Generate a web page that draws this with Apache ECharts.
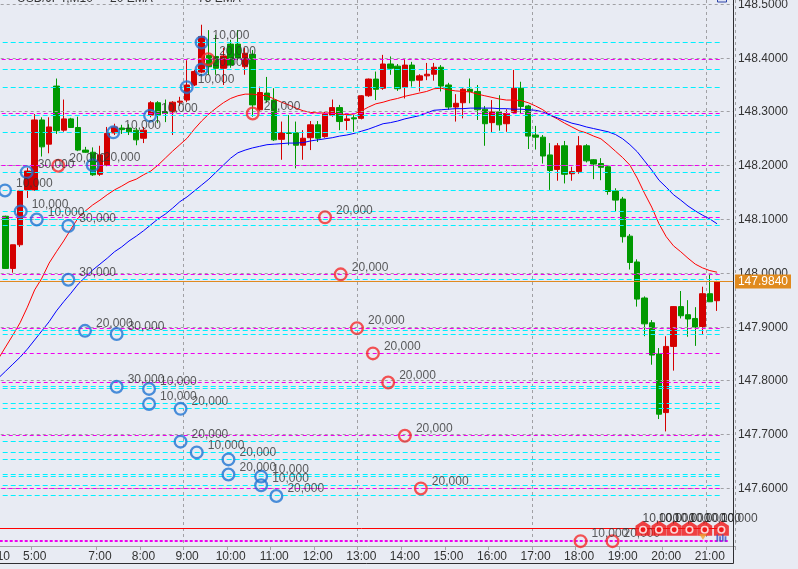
<!DOCTYPE html>
<html><head><meta charset="utf-8">
<script src="https://cdn.jsdelivr.net/npm/echarts@6/dist/echarts.min.js"></script>
<style>html,body{margin:0;padding:0;background:#e8ebf3;}#c{width:798px;height:569px;}</style>
</head><body><div id="c"></div>
<script>
// ---- data ----
const categories = ['4:10','4:20','4:30','4:40','4:50','5:00','5:10','5:20','5:30','5:40','5:50','6:30','6:40','6:50',
'7:00','7:10','7:20','7:30','7:40','7:50','8:00','8:10','8:20','8:30','8:40','8:50',
'9:00','9:10','9:20','9:30','9:40','9:50','10:00','10:10','10:20','10:30','10:40','10:50',
'11:00','11:10','11:20','11:30','11:40','11:50','12:00','12:10','12:20','12:30','12:40','12:50',
'13:00','13:10','13:20','13:30','13:40','13:50','14:00','14:10','14:20','14:30','14:40','14:50',
'15:00','15:10','15:20','15:30','15:40','15:50','16:00','16:10','16:20','16:30','16:40','16:50',
'17:00','17:10','17:20','17:30','17:40','17:50','18:00','18:10','18:20','18:30','18:40','18:50',
'19:00','19:10','19:20','19:30','19:40','19:50','20:00','20:10','20:20','20:30','20:40','20:50',
'21:00','21:10','21:20','21:30'];

const opens = [null,148.106,148.009,148.053,148.155,148.155,148.285,148.240,148.348,148.266,
148.287,148.271,148.229,148.225,148.184,148.201,148.261,148.270,148.270,148.266,
148.251,148.294,148.317,148.300,148.300,148.318,148.322,148.350,148.374,148.405,
148.403,148.381,148.426,148.426,148.384,148.407,148.304,148.335,148.322,148.249,
148.261,148.261,148.238,148.252,148.276,148.254,148.294,148.308,148.284,148.289,
148.288,148.330,148.361,148.344,148.389,148.385,148.346,148.387,148.359,148.367,
148.370,148.383,148.350,148.309,148.317,148.342,148.338,148.305,148.280,148.300,
148.278,148.299,148.344,148.311,148.257,148.253,148.220,148.193,148.237,148.185,
148.189,148.237,148.211,148.204,148.198,148.153,148.138,148.069,148.021,147.954,
147.908,147.850,147.741,147.864,147.938,147.923,147.916,147.901,147.962,147.949];

const closes = [null,148.009,148.053,148.153,148.190,148.285,148.235,148.272,148.265,148.287,
148.271,148.229,148.225,148.183,148.220,148.260,148.272,148.267,148.263,148.248,
148.266,148.317,148.294,148.297,148.318,148.320,148.350,148.375,148.440,148.384,
148.381,148.404,148.387,148.400,148.409,148.313,148.336,148.322,148.248,148.261,
148.260,148.238,148.251,148.276,148.251,148.296,148.308,148.282,148.287,148.287,
148.330,148.361,148.342,148.389,148.381,148.343,148.387,148.358,148.367,148.370,
148.383,148.348,148.309,148.316,148.342,148.338,148.304,148.278,148.300,148.276,
148.297,148.344,148.310,148.255,148.253,148.218,148.191,148.237,148.184,148.189,
148.237,148.209,148.203,148.197,148.152,148.136,148.068,148.020,147.952,147.906,
147.848,147.738,147.864,147.938,147.921,147.915,147.900,147.962,147.947,147.984];

const lows = [null,148.008,148.001,148.049,148.140,148.153,148.217,148.223,148.259,148.263,
148.270,148.227,148.224,148.181,148.181,148.199,148.257,148.259,148.257,148.238,
148.242,148.290,148.279,148.281,148.257,148.311,148.318,148.348,148.372,148.369,
148.369,148.350,148.382,148.396,148.369,148.291,148.302,148.317,148.246,148.211,
148.238,148.195,148.211,148.229,148.244,148.252,148.291,148.266,148.266,148.263,
148.286,148.328,148.322,148.341,148.369,148.339,148.325,148.347,148.338,148.359,
148.358,148.338,148.304,148.282,148.288,148.316,148.285,148.237,148.261,148.265,
148.263,148.296,148.297,148.231,148.230,148.204,148.155,148.172,148.167,148.172,
148.185,148.206,148.175,148.173,148.146,148.115,148.057,148.007,147.938,147.883,
147.830,147.729,147.706,147.819,147.916,147.882,147.865,147.887,147.947,147.930];

const highs = [null,148.107,148.053,148.155,148.196,148.296,148.290,148.290,148.362,148.323,
148.289,148.291,148.235,148.234,148.237,148.272,148.278,148.276,148.277,148.270,
148.272,148.320,148.320,148.323,148.320,148.328,148.396,148.378,148.462,148.452,
148.443,148.419,148.434,148.452,148.419,148.415,148.347,148.365,148.344,148.282,
148.294,148.282,148.266,148.283,148.283,148.300,148.323,148.313,148.294,148.294,
148.331,148.362,148.375,148.406,148.403,148.389,148.398,148.393,148.370,148.391,
148.391,148.387,148.354,148.333,148.344,148.362,148.350,148.311,148.322,148.331,
148.305,148.378,148.356,148.313,148.274,148.257,148.242,148.242,148.246,148.198,
148.255,148.240,148.212,148.214,148.201,148.158,148.142,148.073,148.026,147.957,
147.913,147.861,147.883,147.939,147.967,147.950,147.937,147.975,147.999,147.986];

const ema20 = [147.841,147.863,147.885,147.908,147.937,147.969,147.991,148.019,148.040,148.060,
148.082,148.103,148.116,148.127,148.136,148.146,148.155,148.162,148.170,148.175,
148.183,148.190,148.201,148.214,148.227,148.239,148.251,148.268,148.283,148.296,
148.307,148.317,148.325,148.330,148.333,148.333,148.331,148.330,148.324,148.318,
148.313,148.307,148.302,148.299,148.298,148.298,148.298,148.296,148.295,148.296,
148.302,148.309,148.315,148.318,148.322,148.325,148.329,148.332,148.335,148.338,
148.343,148.344,148.341,148.339,148.338,148.337,148.333,148.330,148.327,148.324,
148.322,148.322,148.321,148.317,148.311,148.304,148.294,148.287,148.279,148.272,
148.265,148.261,148.255,148.250,148.239,148.227,148.215,148.201,148.177,148.149,
148.123,148.092,148.068,148.051,148.040,148.028,148.017,148.010,148.005,148.002];

const ema75 = [147.805,147.818,147.831,147.844,147.859,147.876,147.893,147.910,147.930,147.947,
147.963,147.980,147.993,148.006,148.017,148.028,148.040,148.049,148.060,148.069,
148.079,148.090,148.101,148.110,148.121,148.133,148.142,148.153,148.164,148.175,
148.188,148.201,148.214,148.224,148.229,148.233,148.236,148.239,148.240,148.241,
148.242,148.242,148.243,148.246,148.248,148.250,148.252,148.255,148.257,148.260,
148.264,148.268,148.273,148.278,148.280,148.283,148.287,148.290,148.293,148.298,
148.303,148.304,148.305,148.306,148.306,148.307,148.307,148.307,148.307,148.306,
148.306,148.305,148.305,148.304,148.303,148.300,148.294,148.289,148.284,148.279,
148.276,148.272,148.269,148.266,148.263,148.258,148.250,148.239,148.226,148.209,
148.192,148.173,148.160,148.146,148.136,148.125,148.116,148.108,148.101,148.092];

const yTicks = [148.5,148.4,148.3,148.2,148.1,148.0,147.9,147.8,147.7,147.6];
const xLabels = ['4:10','5:00','7:00','8:00','9:00','10:00','11:00','12:00','13:00','14:00','15:00','16:00','17:00','18:00','19:00','20:00','21:00'];
const vGridTimes = ['9:00','13:00','17:00','21:00'];

// buy orders (blue circles): bar position, price, quantity
const buyX = [0.92,3.08,3.91,5.29,9.64,9.64,11.94,13.0,15.84,16.3,16.3,20.76,20.9,20.76,25.1,25.1,25.95,27.33,28.0,28.0,31.7,31.7,36.2,36.2,38.3];
const buyY = [148.154,148.115,148.188,148.100,148.088,147.988,147.893,148.201,148.262,147.887,147.789,147.785,148.293,147.757,147.748,147.687,148.346,147.667,148.429,148.379,147.654,147.626,147.622,147.606,147.586];
const buyQty = ['10,000','10,000','30,000','10,000','30,000','30,000','20,000','20,000','10,000','30,000','30,000','10,000','10,000','10,000','20,000','20,000','10,000','10,000','10,000','20,000','20,000','20,000','10,000','10,000','20,000'];

// sell orders (red circles)
const sellX = [8.26,28.9,35.04,45.0,47.16,49.4,51.6,53.7,56.0,58.2,80.2,84.6];
const sellY = [148.200,148.398,148.297,148.104,147.998,147.898,147.851,147.797,147.698,147.600,147.502,147.502];
const sellQty = ['20,000','20,000','20,000','20,000','20,000','20,000','20,000','20,000','20,000','20,000','10,000','20,000'];

// executed markers at bottom right
const markX = [88.8,91.0,93.1,95.2,97.3,99.6];
const markQty = ['10,000','10,000','10,000','10,000','10,000','10,000'];
const markPrice = 147.526;

const cyanLevels = [148.429,148.379,148.346,148.293,148.262,148.188,148.154,148.115,148.100,148.088,147.988,147.893,147.887,147.789,147.785,147.757,147.748,147.687,147.667,147.654,147.626,147.622,147.606,147.586];
const magentaLevels = [148.398,148.297,148.200,148.104,147.998,147.898,147.851,147.797,147.698,147.600];
const dottedLevel = 147.502;
const stopLevel = 147.526;
const lastPrice = 147.984;

// ---- chart ----
const FONT = 'Liberation Sans, Arial, sans-serif';
const chart = echarts.init(document.getElementById('c'));

// snap: keeps the level on the y scale but moves it to the nearest crisp pixel row
let snap = (v, w) => v;

function levelSeries(levels, lineStyle, xEnd, z, label) {
  return {
    type: 'line', xAxisIndex: 1, yAxisIndex: 0, data: [], z: z, silent: true,
    markLine: {
      silent: true, animation: false, symbol: ['none', 'none'],
      label: label || { show: false },
      lineStyle: lineStyle,
      emphasis: { disabled: true },
      data: levels.map(v => [{ coord: [-0.5, snap(v, lineStyle.width)], name: v.toFixed(4) }, { coord: [xEnd, snap(v, lineStyle.width)] }])
    }
  };
}

const candleData = opens.map((o, i) => o == null ? ['-', '-', '-', '-'] : [o, closes[i], lows[i], highs[i]]);

function buildOption() {
  return {
    backgroundColor: '#e8ebf3',
    animation: false,
    textStyle: { fontFamily: FONT },
    grid: { left: -5.3, right: 62.8, top: 0, bottom: 23, containLabel: false, outerBoundsMode: 'none' },
    xAxis: [{
      type: 'category', data: categories, boundaryGap: true,
      axisLine: { show: true, lineStyle: { color: '#a4a4a8', width: 1 } },
      axisTick: { show: true, length: 4, lineStyle: { color: '#a4a4a8' },
        interval: (idx, val) => xLabels.indexOf(val) >= 0 },
      axisLabel: { show: true, color: '#333', fontSize: 12, fontFamily: FONT, margin: 5,
        interval: (idx, val) => xLabels.indexOf(val) >= 0 },
      splitLine: { show: true, lineStyle: { color: '#a0a0a4', type: [3, 3], width: 1 },
        interval: (idx, val) => vGridTimes.indexOf(val) >= 0 }
    }, {
      type: 'value', min: -0.5, max: 101.5, show: false,
      axisLine: { show: false }, splitLine: { show: false }, axisLabel: { show: false }, axisTick: { show: false }
    }],
    yAxis: [{
      type: 'value', position: 'right', min: 147.493, max: 148.508, scale: true,
      axisLine: { show: false }, axisTick: { show: false }, axisLabel: { show: false }, splitLine: { show: false }
    }],
    series: [
      levelSeries(yTicks, { color: '#a0a0a4', type: [3, 3], width: 1 }, 101.19, 1,
        { show: true, position: 'end', distance: 5, formatter: '{b}', color: '#333', fontSize: 12, fontFamily: FONT }),
      {
        type: 'candlestick', xAxisIndex: 0, yAxisIndex: 0, data: candleData, barWidth: 5.8, z: 2,
        itemStyle: { color: '#d40000', color0: '#009900', borderColor: '#d40000', borderColor0: '#009900', borderColorDoji: '#009900', borderWidth: 1 }
      },
      { type: 'line', xAxisIndex: 0, data: ema20, showSymbol: false, symbol: 'none', z: 3, silent: true,
        lineStyle: { color: '#ff0000', width: 1 } },
      { type: 'line', xAxisIndex: 0, data: ema75, showSymbol: false, symbol: 'none', z: 3, silent: true,
        lineStyle: { color: '#0000ff', width: 1 } },
      levelSeries(cyanLevels, { color: '#00f0ff', type: [5, 3], width: 1 }, 99.7, 4),
      levelSeries(magentaLevels, { color: '#f000f0', type: [4, 3], width: 1 }, 99.7, 4),
      levelSeries([stopLevel], { color: '#ff0000', type: 'solid', width: 1 }, 100.0, 4),
      levelSeries([dottedLevel], { color: '#f000f0', type: [3, 2], width: 2 }, 100.5, 4),
      levelSeries([lastPrice], { color: '#e08a1e', type: 'solid', width: 1 }, 101.19, 4,
        { show: true, position: 'end', distance: 2, formatter: lastPrice.toFixed(4), color: '#fff',
          backgroundColor: '#e08a1e', padding: [1, 3, 1, 3], fontSize: 12, fontFamily: FONT }),
      {
        type: 'scatter', xAxisIndex: 1, yAxisIndex: 0, z: 5, silent: true,
        data: buyX.map((x, i) => [x, buyY[i], buyQty[i]]),
        symbol: 'circle', symbolSize: 11.7,
        itemStyle: { color: 'rgba(0,0,0,0)', borderColor: '#1f74d2', borderWidth: 2.3 },
        label: { show: true, position: 'right', distance: 4, offset: [0, -7], formatter: p => p.value[2],
          color: '#333', fontSize: 12, fontFamily: FONT }
      },
      {
        type: 'scatter', xAxisIndex: 1, yAxisIndex: 0, z: 5, silent: true,
        data: sellX.map((x, i) => [x, sellY[i], sellQty[i]]),
        symbol: 'circle', symbolSize: 11.7,
        itemStyle: { color: 'rgba(0,0,0,0)', borderColor: '#f42a2a', borderWidth: 2.3 },
        label: { show: true, position: 'right', distance: 4, offset: [0, -7], formatter: p => p.value[2],
          color: '#333', fontSize: 12, fontFamily: FONT }
      },
      {
        type: 'scatter', xAxisIndex: 1, yAxisIndex: 0, z: 6, silent: true,
        data: markX.map((x, i) => [x, markPrice, markQty[i]]),
        symbol: 'path://M0,5 L7.5,0 L15,5 L15,15 L0,15 Z', symbolSize: [15, 15],
        itemStyle: { color: '#f01414' },
        label: { show: true, position: [7, -8], formatter: p => p.value[2], color: '#222', fontSize: 12, fontFamily: FONT }
      },
      {
        type: 'scatter', xAxisIndex: 1, yAxisIndex: 0, z: 7, silent: true,
        data: markX.map(x => [x, markPrice]),
        symbol: 'circle', symbolSize: 6.5, symbolOffset: [0, 1.5],
        itemStyle: { color: '#f01414', borderColor: '#ffffff', borderWidth: 1.6 }
      },
      {
        type: 'scatter', xAxisIndex: 1, yAxisIndex: 0, z: 7, silent: true,
        data: [[97.06, 147.510]], symbol: 'triangle', symbolRotate: 180, symbolSize: [8, 6],
        itemStyle: { color: '#f0a030' }
      },
      {
        type: 'scatter', xAxisIndex: 1, yAxisIndex: 0, z: 7, silent: true,
        data: [[99.6, 147.508]], symbol: 'path://M0,0h2v8h-2z M3,2h2v6h-2z M6,0h2v8h-2z M9,2h2v6h-2z', symbolSize: [10, 7],
        itemStyle: { color: '#3a52c0' }
      }
    ],
    graphic: [
      { type: 'line', z: 100, shape: { x1: 733.5, y1: 0, x2: 733.5, y2: 563.5 }, style: { stroke: '#2e2e32', lineWidth: 1 } },
      { type: 'line', z: 100, shape: { x1: 0, y1: 563.5, x2: 733.5, y2: 563.5 }, style: { stroke: '#2e2e32', lineWidth: 1 } },
      { type: 'text', z: 100, x: 17, y: -7, style: { text: 'USD/JPY,M10', fill: '#333', font: '12px ' + FONT } },
      { type: 'text', z: 100, x: 110, y: -7, style: { text: '20 EMA', fill: '#333', font: '12px ' + FONT } },
      { type: 'text', z: 100, x: 198, y: -7, style: { text: '75 EMA', fill: '#333', font: '12px ' + FONT } },
      { type: 'rect', z: 100, shape: { x: 717.5, y: -4, width: 9, height: 6 }, style: { fill: '#dfe4f5', stroke: '#2c44a8', lineWidth: 1 } }
    ]
  };
}

chart.setOption(buildOption());
// second pass: snap horizontal level lines to crisp pixel rows using the chart's own y scale
snap = (v, w) => {
  const py = chart.convertToPixel({ yAxisIndex: 0 }, v);
  const target = (w && w % 2 === 0) ? Math.round(py) : Math.floor(py) + 0.5;
  return chart.convertFromPixel({ yAxisIndex: 0 }, target);
};
chart.setOption(buildOption(), true);
</script>
</body></html>
